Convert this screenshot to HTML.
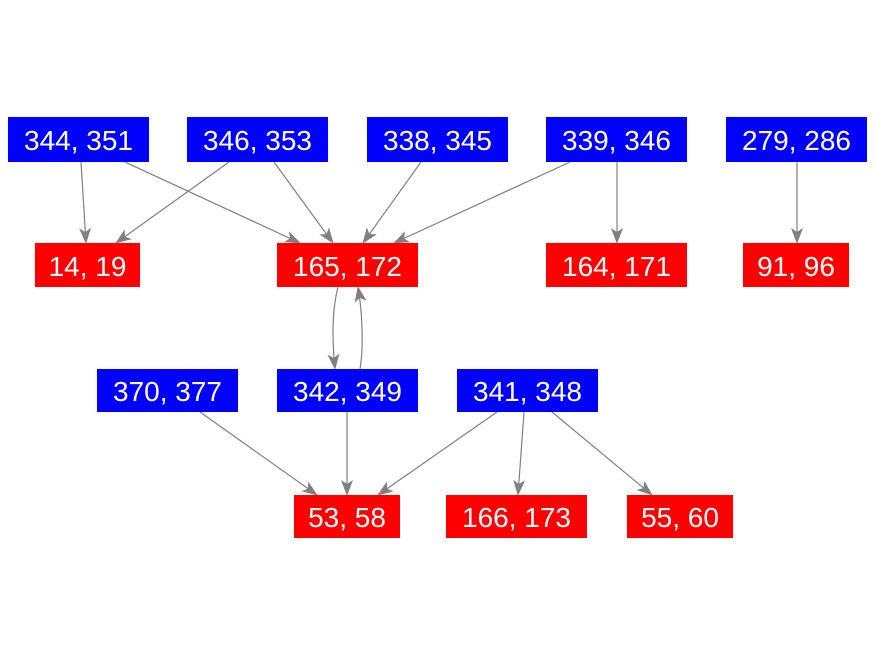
<!DOCTYPE html>
<html><head><style>body{margin:0;background:#fff}svg{display:block}</style></head><body>
<svg width="875" height="656" xmlns="http://www.w3.org/2000/svg" font-family="Liberation Sans, Arial, sans-serif">
<defs><marker id="a" markerWidth="16" markerHeight="12" refX="15" refY="6" orient="auto" markerUnits="userSpaceOnUse"><path d="M0,0 L16,6 L0,12 L4,6 Z" fill="#808080"/></marker></defs>
<g stroke="#808080" stroke-width="1.2" fill="none" marker-end="url(#a)">
<line x1="81" y1="162" x2="86" y2="243"/>
<line x1="125" y1="162" x2="300" y2="243"/>
<line x1="229" y1="162" x2="116" y2="243"/>
<line x1="274" y1="162" x2="333" y2="243"/>
<line x1="421" y1="162" x2="363" y2="243"/>
<line x1="570" y1="162" x2="394" y2="243"/>
<line x1="617" y1="162" x2="617" y2="243"/>
<line x1="797" y1="162" x2="797" y2="243"/>
<path d="M338,287 C332,310 332,340 335,369"/>
<path d="M360,369 C364,345 362,310 358,287"/>
<line x1="200" y1="412" x2="317" y2="495"/>
<line x1="347" y1="412" x2="347" y2="495"/>
<line x1="497" y1="412" x2="378" y2="495"/>
<line x1="524" y1="412" x2="518" y2="495"/>
<line x1="552" y1="412" x2="652" y2="495"/>
</g>
<g fill="#0000ff">
<rect x="8" y="117" width="141" height="45"/><rect x="187" y="117" width="141" height="45"/><rect x="367" y="117" width="141" height="45"/><rect x="546" y="117" width="141" height="45"/><rect x="726" y="117" width="141" height="45"/>
<rect x="97" y="369" width="141" height="43"/><rect x="277" y="369" width="141" height="43"/><rect x="457" y="369" width="141" height="43"/>
</g>
<g fill="#ff0000">
<rect x="35" y="243" width="105" height="44"/><rect x="277" y="243" width="141" height="44"/><rect x="546" y="243" width="141" height="44"/><rect x="743" y="243" width="106" height="44"/>
<rect x="294" y="495" width="106" height="43"/><rect x="446" y="495" width="141" height="43"/><rect x="627" y="495" width="106" height="43"/>
</g>
<g fill="#fff" font-size="28" text-anchor="middle">
<text x="78.5" y="150">344, 351</text><text x="257.5" y="150">346, 353</text><text x="437.5" y="150">338, 345</text><text x="616.5" y="150">339, 346</text><text x="796.5" y="150">279, 286</text>
<text x="87.5" y="276">14, 19</text><text x="347.5" y="276">165, 172</text><text x="616.5" y="276">164, 171</text><text x="796" y="276">91, 96</text>
<text x="167.5" y="401">370, 377</text><text x="347.5" y="401">342, 349</text><text x="527.5" y="401">341, 348</text>
<text x="347" y="527">53, 58</text><text x="516.5" y="527">166, 173</text><text x="680" y="527">55, 60</text>
</g>
</svg>
</body></html>
